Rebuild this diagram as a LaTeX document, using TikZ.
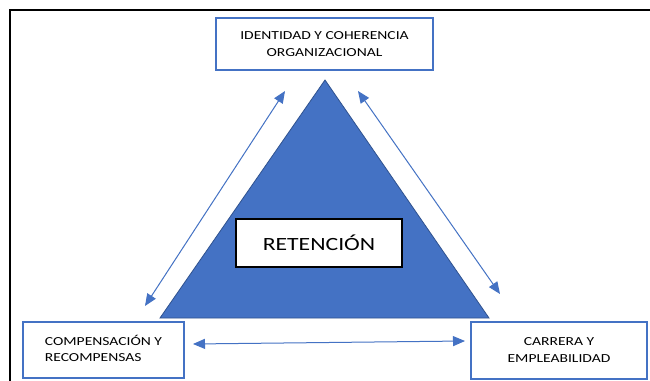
\documentclass[tikz,border=0pt]{standalone}
\usepackage{fontspec}
\setmainfont{Carlito}[FakeStretch=1.27]
\usetikzlibrary{arrows.meta}
\definecolor{accblue}{HTML}{4472C4}
\definecolor{darkblue}{HTML}{2F528F}
\tikzset{
  box/.style={draw=accblue, line width=1.1pt, fill=white, inner sep=0pt,
    font=\fontsize{9.2}{12.75}\selectfont, align=center},
  link/.style={draw=accblue, line width=0.75pt,
    {Triangle[length=9pt,width=7.5pt]}-{Triangle[length=9pt,width=7.5pt]}}
}
\begin{document}
\begin{tikzpicture}[x=0.75pt,y=-0.75pt]
\useasboundingbox (0,0) rectangle (650,381);
\clip (0,0) rectangle (650,381);
\fill[white] (0,0) rectangle (650,381);
% frame
\draw[line width=1.9pt] (10,400) -- (10,10) -- (680,10);
% triangle
\coordinate (apex) at (325,80);
\coordinate (bl) at (160,318);
\coordinate (br) at (489,318);
\filldraw[fill=accblue, draw=darkblue, line width=0.6pt] (apex) -- (bl) -- (br) -- cycle;
% boxes
\node[box, minimum width=162.75pt, minimum height=39pt] (top) at (324.5,44) {IDENTIDAD Y COHERENCIA\\ORGANIZACIONAL};
\node[box, minimum width=120.75pt, minimum height=42pt] (left) at (103.5,350) {\begin{tabular}{@{}l@{}}COMPENSACIÓN Y\\[-1.3pt]RECOMPENSAS\end{tabular}};
\node[box, minimum width=132pt, minimum height=42.75pt] (right) at (559,350.5) {CARRERA Y\\EMPLEABILIDAD};
\node[draw=black, line width=1.1pt, fill=white, minimum width=124.5pt, minimum height=36pt, inner sep=0pt, font=\fontsize{14}{16}\selectfont] (ret) at (319,243) {RETENCIÓN};
% arrows
\coordinate (a1) at (145,306);
\coordinate (a2) at (285,91);
\coordinate (b1) at (358,91);
\coordinate (b2) at (500,294);
\coordinate (c1) at (193,344);
\coordinate (c2) at (465,341);
\draw[link] (a1) -- (a2);
\draw[link] (b1) -- (b2);
\draw[link] (c1) -- (c2);
\end{tikzpicture}
\end{document}
